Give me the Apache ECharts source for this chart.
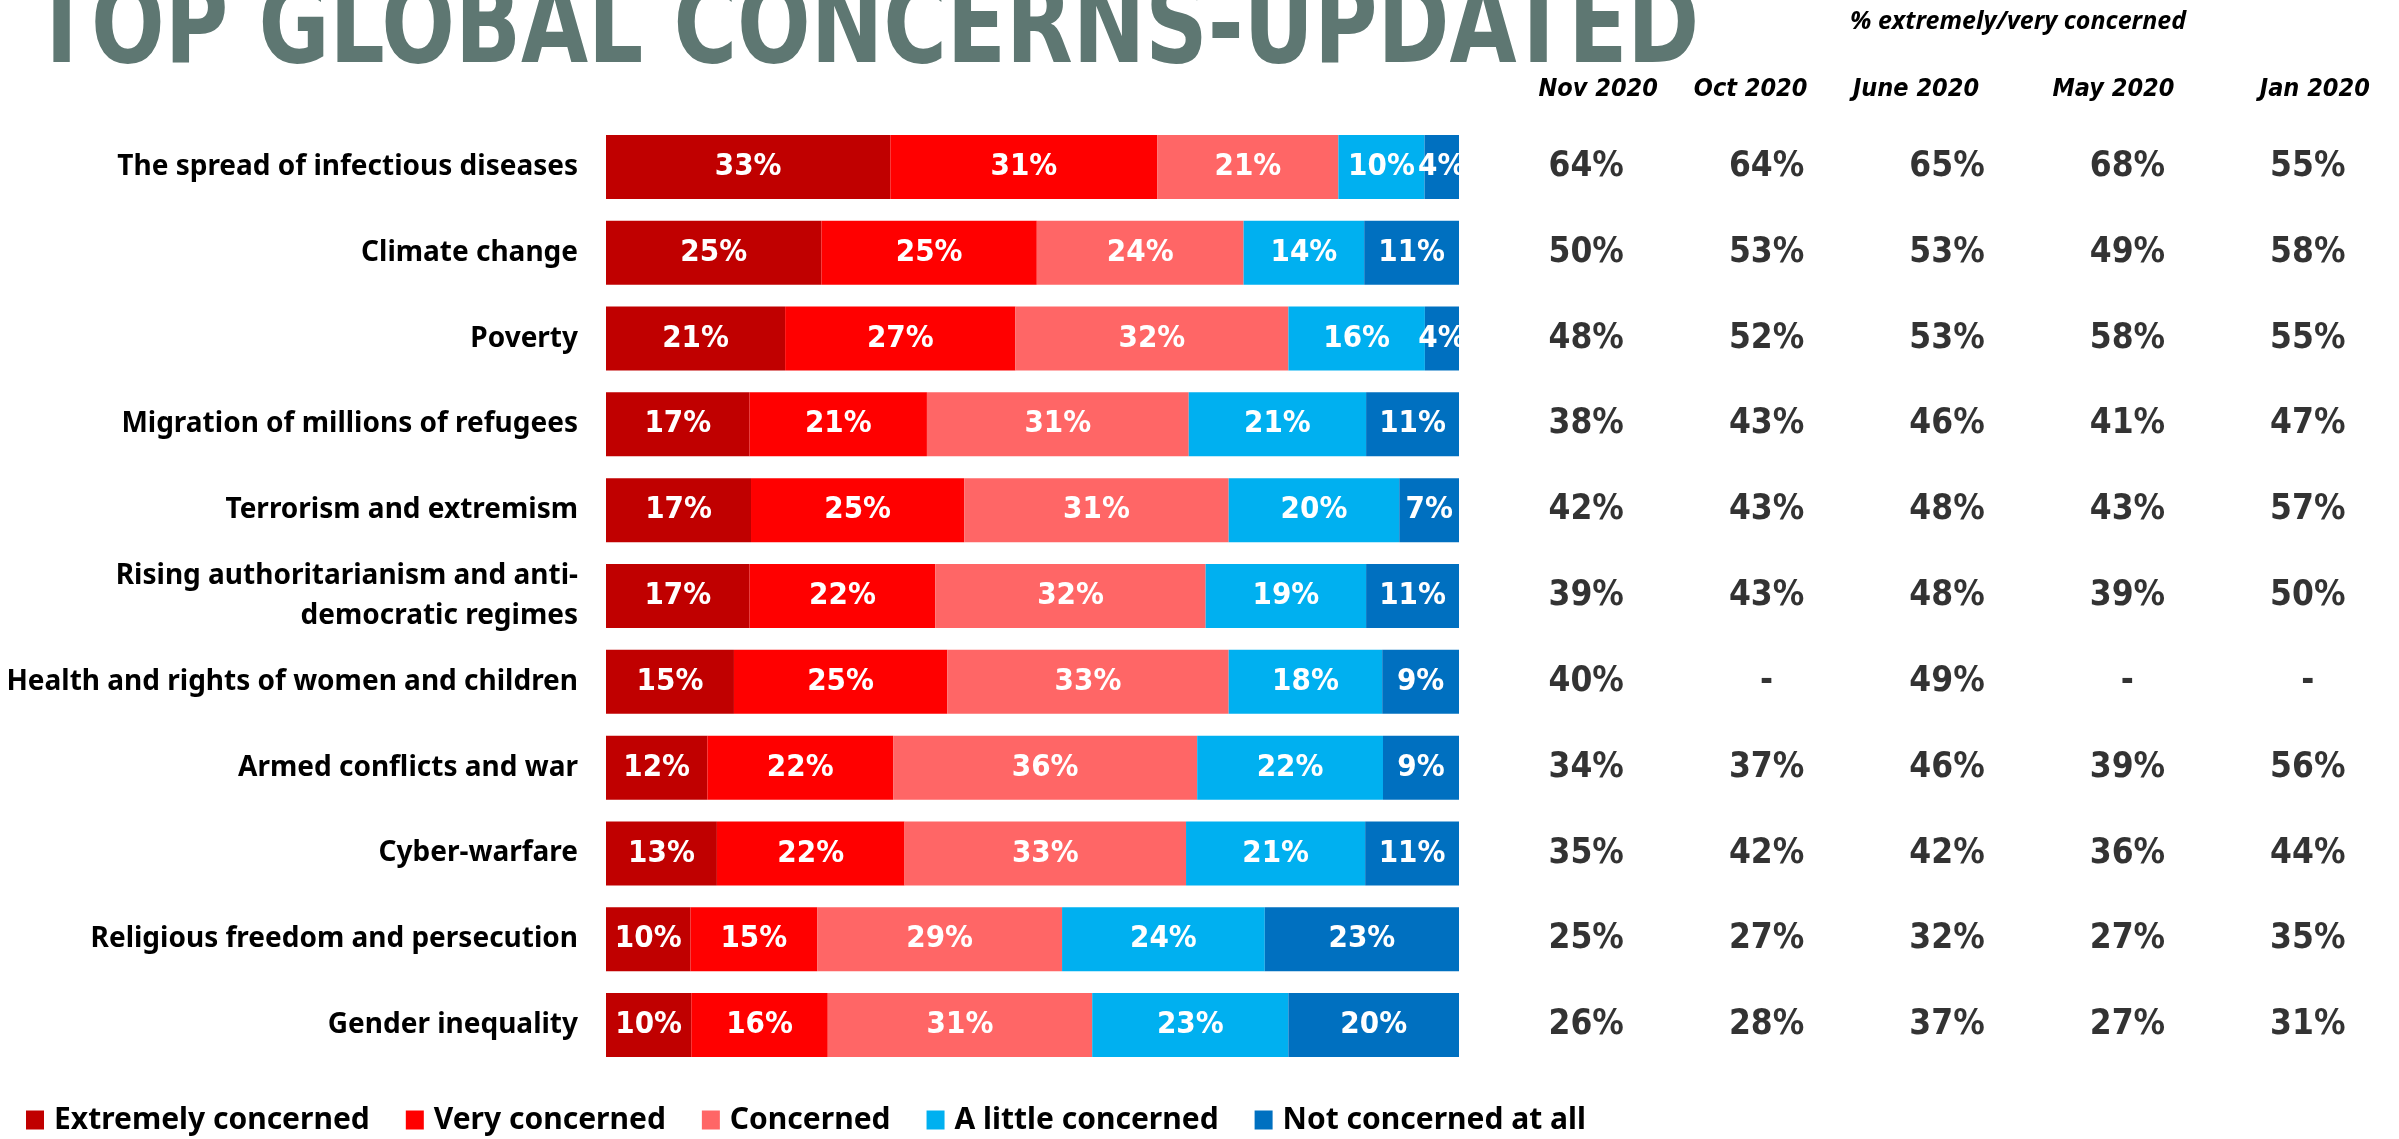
<!DOCTYPE html>
<html>
<head>
<meta charset="utf-8">
<script src="https://cdn.jsdelivr.net/npm/echarts@6/dist/echarts.min.js"></script>
<style>
  html, body { margin: 0; padding: 0; background: #fff; }
  #chart { width: 2399px; height: 1139px; }
</style>
</head>
<body>
<div id="chart"></div>
<script>
// rows, top to bottom
const categories = [
  'The spread of infectious diseases',
  'Climate change',
  'Poverty',
  'Migration of millions of refugees',
  'Terrorism and extremism',
  'Rising authoritarianism and anti-\ndemocratic regimes',
  'Health and rights of women and children',
  'Armed conflicts and war',
  'Cyber-warfare',
  'Religious freedom and persecution',
  'Gender inequality'
]

const levels = ['Extremely concerned', 'Very concerned', 'Concerned', 'A little concerned', 'Not concerned at all']
const levelColors = ['#c00000', '#ff0000', '#ff6666', '#00b0f0', '#0070c0']

const extremely = [33, 25, 21, 17, 17, 17, 15, 12, 13, 10, 10]
const very = [31, 25, 27, 21, 25, 22, 25, 22, 22, 15, 16]
const concerned = [21, 24, 32, 31, 31, 32, 33, 36, 33, 29, 31]
const aLittle = [10, 14, 16, 21, 20, 19, 18, 22, 21, 24, 23]
const notAtAll = [4, 11, 4, 11, 7, 11, 9, 9, 11, 23, 20]

// % extremely/very concerned by wave (null = not asked)
const periods = ['Nov 2020', 'Oct 2020', 'June 2020', 'May 2020', 'Jan 2020']
const nov2020 = [64, 50, 48, 38, 42, 39, 40, 34, 35, 25, 26]
const oct2020 = [64, 53, 52, 43, 43, 43, null, 37, 42, 27, 28]
const jun2020 = [65, 53, 53, 46, 48, 48, 49, 46, 42, 32, 37]
const may2020 = [68, 49, 58, 41, 43, 39, null, 39, 36, 27, 27]
const jan2020 = [55, 58, 55, 47, 57, 50, null, 56, 44, 35, 31]

const levelData = [extremely, very, concerned, aLittle, notAtAll]
const waveData = [nov2020, oct2020, jun2020, may2020, jan2020]

// bars are drawn as share of the row total so every row fills the width
const rowTotals = categories.map((c, i) => levelData.reduce((s, arr) => s + arr[i], 0))

const labelFont = '"Noto Sans", sans-serif'
const condFont = '"DejaVu Sans Condensed", "DejaVu Sans", sans-serif'

// headers sit a little off the value columns in the original slide
const headerShift = [12, -16, -31, -14, 7]
const headerRich = {}
headerShift.forEach((d, i) => {
  headerRich['h' + i] = {
    color: '#000',
    fontFamily: condFont,
    fontWeight: 'bold',
    fontStyle: 'italic',
    fontSize: 25,
    padding: d > 0 ? [0, 0, 0, 2 * d] : [0, -2 * d, 0, 0]
  }
})

const barSeries = levels.map((name, k) => ({
  name: name,
  type: 'bar',
  stack: 'total',
  barWidth: 64,
  xAxisIndex: 0,
  yAxisIndex: 0,
  itemStyle: { color: levelColors[k] },
  label: {
    show: true,
    position: 'inside',
    color: '#fff',
    fontFamily: condFont,
    fontWeight: 'bold',
    fontSize: 31,
    formatter: p => p.data.raw + '%'
  },
  emphasis: { disabled: true },
  data: levelData[k].map((v, i) => ({ value: v / rowTotals[i] * 100, raw: v }))
}))

const waveSeries = {
  type: 'scatter',
  xAxisIndex: 1,
  yAxisIndex: 1,
  symbolSize: 1,
  itemStyle: { color: 'rgba(0,0,0,0)' },
  label: {
    show: true,
    position: 'inside',
    color: '#000',
    fontFamily: condFont,
    fontWeight: 'bold',
    fontSize: 35,
    formatter: p => p.data.raw == null ? '-' : p.data.raw + '%'
  },
  silent: true,
  data: []
}
waveData.forEach((arr, c) => {
  arr.forEach((v, r) => waveSeries.data.push({ value: [c, r], raw: v }))
})

const option = {
  backgroundColor: '#fff',
  animation: false,
  graphic: [
    {
      type: 'text',
      x: 32,
      y: 33,
      scaleX: 0.86,
      style: {
        text: 'TOP GLOBAL CONCERNS-UPDATED',
        fontFamily: condFont,
        fontWeight: 'bold',
        fontSize: 112,
        fill: '#5e7772',
        verticalAlign: 'middle'
      }
    },
    {
      type: 'text',
      x: 1850,
      y: 22,
      style: {
        text: '% extremely/very concerned',
        fontFamily: '"Noto Sans", sans-serif',
        fontWeight: 'bold',
        fontStyle: 'italic',
        fontSize: 25,
        fill: '#000',
        verticalAlign: 'middle'
      }
    }
  ],
  legend: {
    data: levels,
    left: 26,
    top: 1105,
    padding: 0,
    icon: 'rect',
    itemWidth: 18,
    itemHeight: 19,
    itemGap: 36,
    textStyle: {
      fontFamily: labelFont,
      fontWeight: 'bold',
      fontSize: 30,
      color: '#000',
      padding: [0, 0, 0, 5]
    }
  },
  grid: [
    { left: 606, width: 853, top: 124, height: 944 },
    { left: 1496, width: 902, top: 124, height: 944 }
  ],
  xAxis: [
    { gridIndex: 0, type: 'value', min: 0, max: 100, show: false },
    {
      gridIndex: 1,
      type: 'category',
      data: periods,
      position: 'top',
      axisLine: { show: false },
      axisTick: { show: false },
      splitLine: { show: false },
      axisLabel: {
        interval: 0,
        margin: 22,
        formatter: (v, i) => '{h' + i + '|' + v + '}',
        rich: headerRich
      }
    }
  ],
  yAxis: [
    {
      gridIndex: 0,
      type: 'category',
      data: categories,
      inverse: true,
      axisLine: { show: false },
      axisTick: { show: false },
      splitLine: { show: false },
      axisLabel: {
        margin: 28,
        color: '#000',
        fontFamily: labelFont,
        fontWeight: 'bold',
        fontSize: 28,
        lineHeight: 40,
        align: 'right'
      }
    },
    {
      gridIndex: 1,
      type: 'category',
      data: categories,
      inverse: true,
      show: false
    }
  ],
  series: barSeries.concat([waveSeries])
}

const myChart = echarts.init(document.getElementById('chart'))
myChart.setOption(option)
</script>
</body>
</html>
